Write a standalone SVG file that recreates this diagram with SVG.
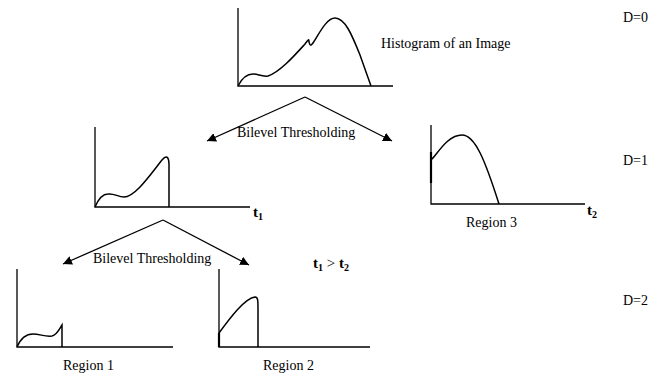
<svg xmlns="http://www.w3.org/2000/svg" width="665" height="375" viewBox="0 0 665 375">
<style>
text{font-family:"Liberation Serif","Times New Roman",serif;font-size:14px;fill:#000}
.b{font-weight:bold;font-size:15px}
.sub{font-size:10px;font-weight:bold}
.ax{stroke:#000;stroke-width:1.3;fill:none}
.cv{stroke:#000;stroke-width:1.5;fill:none}
.ar{stroke:#000;stroke-width:1.3;fill:none;marker-end:url(#ah)}
</style>
<defs>
<marker id="ah" viewBox="0 0 10 10" refX="10" refY="5" markerWidth="9" markerHeight="9" markerUnits="userSpaceOnUse" orient="auto">
<path d="M0,0 L10,5 L0,10 z" fill="#000"/>
</marker>
</defs>
<rect width="665" height="375" fill="#fff"/>
<g id="hist0">
<path class="ax" d="M238,8 V86 H393"/>
<path class="cv" d="M238,86 C242,78 247,74 253,74 C258,74 262,77 268,76 C280,72 295,55 305,44 C308,40 309,38 309,42 C310,46 311,46 313,43 C320,32 327,18 335,18 C345,18 352,35 360,55 L371,86"/>
<text x="381" y="48">Histogram of an Image</text>
</g>
<g id="hist1">
<path class="ax" d="M95,127 V207 H250"/>
<path class="cv" d="M95,207 C98,200 102,194 108,194 C114,193 118,197 124,197 C135,197 150,175 162,160 C166,155 169,156 169,165 L169,207"/>
<text x="253" y="217" class="b">t<tspan class="sub" dy="3">1</tspan></text>
</g>
<g id="hist3">
<path class="ax" d="M431,125 V204 H585"/>
<path d="M431,152 V183" stroke="#000" stroke-width="2.2"/>
<path class="cv" d="M431,160 C437,155 447,135 462,135 C475,135 485,160 499,204"/>
<text x="466" y="227">Region 3</text>
<text x="587" y="215" class="b">t<tspan class="sub" dy="3">2</tspan></text>
</g>
<g id="hist_r1">
<path class="ax" d="M17,269 V347 H173"/>
<path class="cv" d="M17,347 C20,340 25,334 33,334 C40,334 45,337 52,336 C57,335 60,328 62,325 L62,347"/>
<text x="63" y="370">Region 1</text>
</g>
<g id="hist_r2">
<path class="ax" d="M219,269 V347 H370"/>
<path d="M219,333 V347" stroke="#000" stroke-width="2.2"/>
<path class="cv" d="M219,333 C230,318 245,298 255,297 C258,297 258,300 258,310 L258,347"/>
<text x="263" y="370">Region 2</text>
</g>
<g id="connectors">
<path class="ar" d="M305,97 L207,141"/>
<path class="ar" d="M305,97 L392,141"/>
<path class="ar" d="M163,220 L63,264"/>
<path class="ar" d="M163,220 L249,265"/>
</g>
<g id="labels">
<text x="237" y="137">Bilevel Thresholding</text>
<text x="93" y="263">Bilevel Thresholding</text>
<text x="313" y="268" class="b">t<tspan class="sub" dy="3">1</tspan><tspan dy="-3" font-weight="normal"> &gt; </tspan>t<tspan class="sub" dy="3">2</tspan></text>
<text x="623" y="22">D=0</text>
<text x="623" y="165">D=1</text>
<text x="623" y="305">D=2</text>
</g>
</svg>
